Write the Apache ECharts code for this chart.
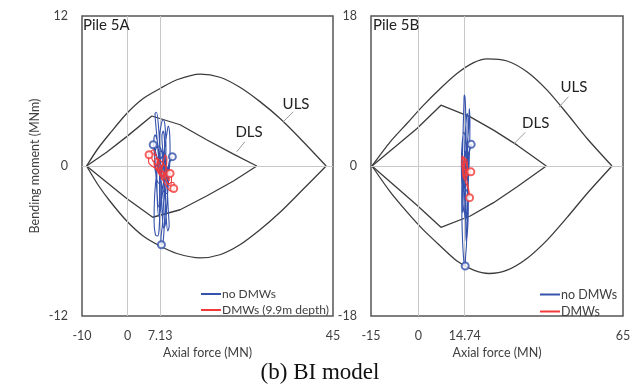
<!DOCTYPE html>
<html><head><meta charset="utf-8">
<script src="https://cdn.jsdelivr.net/npm/echarts@6/dist/echarts.min.js"></script>
<style>html,body{margin:0;padding:0;background:#fff}#c{width:640px;height:392px}</style>
</head><body><div id="c"></div>
<script>
// ---- tick labels ----
const xTicksA = [-10, 0, 7.13, 45];
const yTicksA = [-12, 0, 12];
const xTicksB = [-15, 0, 14.74, 65];
const yTicksB = [-18, 0, 18];
const refLinesA = [0, 7.13];
const refLinesB = [0, 14.74];

// ---- interaction envelopes (axial force MN, bending moment MNm) ----
const ulsUpperA = [[-9.0,0],[-6.5,1.4],[-3.9,2.6],[-0.2,4.2],[3.4,5.4],[7.1,6.2],[10.8,6.9],[15.9,7.35],[20.2,7.1],[24.6,6.3],[29.0,5.15],[33.4,3.8],[37.8,2.2],[43.5,0]];
const ulsLowerA = [[-9.0,0],[-6.5,-1.5],[-3.9,-2.8],[-0.2,-4.4],[3.4,-5.6],[7.1,-6.4],[10.8,-7.0],[15.9,-7.35],[20.2,-7.1],[24.6,-6.3],[29.0,-5.1],[33.4,-3.7],[37.8,-2.1],[43.5,0]];
const dlsUpperA = [[-9.0,0],[-4.6,1.1],[-0.2,2.35],[5.3,4.0],[11.5,3.3],[17.3,2.1],[23.2,0.95],[28.3,0]];
const dlsLowerA = [[-9.0,0],[-4.6,-1.3],[-0.2,-2.6],[5.5,-4.1],[11.5,-3.5],[17.3,-2.4],[23.2,-1.2],[28.3,0]];

const ulsUpperB = [[-14.7,0],[-8.9,2.9],[-3.6,5.1],[1.7,7.3],[7.0,9.3],[12.3,11.1],[17.6,12.4],[21.8,12.85],[28.2,12.6],[34.5,11.3],[40.9,9.1],[47.2,6.3],[53.6,3.3],[61.5,0]];
const ulsLowerB = [[-14.7,0],[-8.9,-3.1],[-3.6,-5.5],[1.7,-7.7],[7.0,-9.6],[12.3,-11.4],[17.6,-12.5],[22.5,-12.9],[28.2,-12.5],[34.5,-11.1],[40.9,-8.9],[47.2,-6.2],[53.6,-3.3],[61.5,0]];
const dlsUpperB = [[-14.7,0],[-6.75,2.5],[-0.4,4.5],[7.2,7.3],[16.5,5.9],[23.9,4.3],[31.4,2.5],[40.65,0]];
const dlsLowerB = [[-14.7,0],[-6.75,-2.6],[-0.4,-4.7],[7.2,-7.36],[16.5,-6.0],[23.9,-4.4],[31.4,-2.5],[40.65,0]];

// ---- pile response trajectories ----
const noDmwA = [[7.5,0.0],[8.0,1.2],[8.6,2.6],[8.9,3.2],[9.2,2.6],[9.3,1.0],[9.0,-1.0],[8.6,-3.0],[8.3,-4.6],[7.9,-5.0],[7.6,-4.0],[7.4,-2.0],[7.2,0.2],[7.0,2.2],[7.4,3.4],[7.8,3.7],[8.2,3.2],[8.4,1.5],[8.2,-0.5],[7.9,-2.8],[7.6,-4.8],[7.3,-5.8],[7.4,-6.3],[7.7,-6.2],[8.0,-5.0],[8.3,-2.5],[8.5,0.0],[8.1,1.0],[7.2,0.5],[6.4,-0.5],[5.9,-2.5],[5.8,-4.5],[6.1,-5.5],[6.6,-5.6],[7.0,-4.0],[7.0,-1.0],[6.6,1.5],[6.2,3.2],[6.0,4.2],[6.3,4.3],[6.8,3.0],[7.1,0.8],[7.3,-1.5],[7.2,-3.5],[6.8,-4.0],[6.4,-2.0],[6.0,0.5],[5.7,1.7],[6.0,2.5],[6.5,2.0],[7.0,0.5],[7.6,-0.8],[8.3,-1.2],[8.8,-0.3],[9.3,0.6],[9.8,0.75],[9.2,0.2],[8.7,-1.5],[8.9,-3.5],[9.1,-4.8],[8.8,-5.2],[8.4,-3.8],[8.0,-1.0],[7.7,1.2],[7.5,2.4],[7.8,2.8],[8.1,1.8],[8.0,-0.4],[7.5,-2.6],[6.9,-3.3],[6.5,-2.4],[6.4,-0.6],[6.8,0.9],[7.3,1.2],[7.7,0.4],[7.4,-0.9],[6.9,-1.4],[6.3,-0.9],[5.9,0.3],[6.2,1.4],[6.9,1.6],[7.6,1.0],[8.4,0.2],[8.9,-0.8],[8.6,-2.2],[7.8,-2.0],[7.1,-0.6],[6.5,0.6],[5.6,1.7]];
const noDmwMarksA = [[9.8,0.75],[5.6,1.7],[7.4,-6.3]];
const dmwA = [[7.0,0.2],[6.2,0.8],[5.2,1.0],[4.6,0.9],[4.6,0.3],[5.3,0.0],[6.3,-0.2],[7.2,-0.3],[8.0,-0.5],[8.6,-0.9],[9.1,-1.2],[9.0,-0.6],[8.2,0.0],[7.3,0.4],[6.6,0.6],[6.4,0.0],[7.0,-0.6],[7.8,-1.2],[8.6,-1.7],[9.4,-2.0],[10.1,-1.9],[10.2,-1.4],[9.6,-1.3],[8.9,-1.5],[8.3,-1.0],[7.6,-0.4],[6.9,0.3],[6.0,0.6],[5.8,0.1],[6.5,-0.4],[7.5,-0.9],[8.4,-0.2],[8.6,0.6],[8.2,0.9],[7.8,0.3],[7.1,-0.2],[6.6,0.3],[6.1,1.0],[5.6,1.3],[5.1,1.1],[5.4,0.5],[6.2,0.1],[7.0,-0.4],[7.9,-0.9],[8.7,-1.3],[9.3,-1.6],[9.6,-1.0],[9.0,-0.4],[8.3,-0.6],[7.6,-1.1],[7.3,-0.6],[7.8,0.1]];
const dmwMarksA = [[10.1,-1.8],[9.3,-0.6],[4.7,0.9]];

const noDmwB = [[15.0,0.0],[15.5,2.5],[16.0,4.5],[16.2,6.9],[16.4,5.0],[16.3,2.0],[16.0,-1.0],[15.7,-4.0],[15.5,-7.0],[15.3,-9.5],[15.0,-11.0],[14.9,-12.0],[14.6,-11.8],[14.2,-10.0],[13.9,-7.0],[13.8,-4.0],[13.9,-1.0],[14.1,2.0],[14.3,5.0],[14.5,7.5],[14.6,8.5],[14.9,8.0],[15.1,5.5],[15.2,2.5],[15.1,-1.0],[15.0,-4.0],[15.1,-7.5],[15.2,-9.0],[15.6,-8.0],[15.9,-5.0],[15.8,-2.0],[15.5,1.0],[15.1,3.0],[14.5,4.0],[14.0,3.0],[13.7,0.5],[13.8,-2.0],[14.3,-3.0],[15.0,-1.5],[15.8,1.0],[16.5,2.4],[16.9,2.6],[16.2,1.6],[15.7,-0.5],[15.6,-3.0],[15.4,-5.5],[15.0,-6.5],[14.6,-5.0],[14.4,-2.5],[14.6,0.5],[14.9,3.5],[15.3,5.8],[15.6,6.3],[15.8,4.4],[15.6,1.5],[15.2,-1.2],[14.7,-3.6],[14.2,-5.6],[14.0,-4.2],[14.2,-1.5],[14.8,1.2],[15.4,2.0],[15.9,0.8],[15.8,-1.6],[15.3,-3.0],[14.8,-2.2],[14.9,0.0]];
const noDmwMarksB = [[16.8,2.6],[14.9,-12.0]];
const dmwB = [[14.8,0.0],[14.2,0.8],[13.9,1.2],[13.8,0.5],[14.0,-0.5],[14.6,-1.2],[15.2,-1.0],[15.6,-0.3],[15.5,0.6],[15.0,0.9],[14.6,0.2],[14.5,-0.8],[14.9,-1.8],[15.4,-2.3],[15.9,-2.8],[16.2,-3.5],[16.4,-3.8],[16.1,-3.0],[15.5,-1.8],[15.0,-0.8],[15.4,-0.4],[16.1,-0.5],[16.7,-0.7],[16.3,-0.9],[15.5,-1.0],[14.8,-0.2],[14.3,0.4],[14.1,-0.6],[14.6,-1.6],[15.3,-1.4],[15.8,-0.8],[15.2,0.3],[14.6,1.0],[14.2,1.1],[14.5,0.1],[15.1,-0.6]];
const dmwMarksB = [[16.7,-0.7],[16.3,-3.8]];

// ---- annotations (data coordinates) ----
const ulsLabelA = [36.9, 4.96], ulsLeaderA = [[34.1,3.54],[36.3,4.34]];
const dlsLabelA = [26.6, 2.72], dlsLeaderA = [[23.9,1.14],[25.7,1.94]];
const ulsLabelB = [49.4, 9.42], ulsLeaderB = [[44.6,7.04],[47.7,8.32]];
const dlsLabelB = [37.3, 5.12], dlsLeaderB = [[30.3,2.64],[34.0,4.04]];

const FONT = 'Lato';
const TXT = '#404040';
const ENV = '#3c3c3c';
const BLUE = '#3552ad';
const RED = '#f23a3a';

function envSeries(data, i, extra) {
  return Object.assign({
    type: 'line', xAxisIndex: i, yAxisIndex: i, data: data,
    showSymbol: false, symbol: 'none', smooth: 0.25, silent: true,
    lineStyle: { color: ENV, width: 1.3 }, z: 3
  }, extra || {});
}
function annot(i, labelPos, leader, text) {
  return {
    type: 'line', xAxisIndex: i, yAxisIndex: i, data: [], silent: true,
    markLine: { silent: true, symbol: 'none', label: { show: false },
      lineStyle: { color: '#9a9a9a', width: 1, type: 'solid' },
      data: [[{ coord: leader[0] }, { coord: leader[1] }]] },
    markPoint: { silent: true, symbol: 'circle', symbolSize: 0,
      label: { show: true, formatter: text, color: '#222', fontFamily: FONT, fontSize: 15, position: 'inside' },
      data: [{ coord: labelPos }] }
  };
}
function refLines(i, xs) {
  return {
    type: 'line', xAxisIndex: i, yAxisIndex: i, data: [], silent: true, z: 1,
    markLine: { silent: true, symbol: 'none', label: { show: false },
      lineStyle: { color: '#c8c8c8', width: 1, type: 'solid' },
      data: xs.map(v => ({ xAxis: v })).concat([{ yAxis: 0 }]) }
  };
}
function traj(name, data, color, i, z) {
  return { name: name, type: 'line', xAxisIndex: i, yAxisIndex: i, data: data,
    showSymbol: false, symbol: 'none', smooth: 0.35, z: z,
    lineStyle: { color: color, width: 1.1 }, itemStyle: { color: color } };
}
function marks(name, data, color, i, z) {
  return { name: name, type: 'scatter', xAxisIndex: i, yAxisIndex: i, data: data,
    symbol: 'emptyCircle', symbolSize: 7, z: z,
    itemStyle: { color: color, borderColor: color, borderWidth: 1 } };
}
const axLabel = { color: TXT, fontFamily: FONT, fontSize: 12.5 };

const option = {
  animation: false,
  title: [
    { text: 'Pile 5A', left: 83, top: 18, padding: 0, textStyle: { fontFamily: FONT, fontSize: 15, fontWeight: 'normal', color: '#222' } },
    { text: 'Pile 5B', left: 373, top: 18, padding: 0, textStyle: { fontFamily: FONT, fontSize: 15, fontWeight: 'normal', color: '#222' } },
    { text: '(b) BI model', left: 'center', top: 361, padding: 0, textStyle: { fontFamily: 'Liberation Serif', fontSize: 23, fontWeight: 'normal', color: '#111' } }
  ],
  grid: [
    { left: 82, top: 16, width: 251, height: 300, show: true, borderColor: '#555', borderWidth: 1.5, backgroundColor: 'transparent' },
    { left: 371, top: 16, width: 252, height: 300, show: true, borderColor: '#555', borderWidth: 1.5, backgroundColor: 'transparent' }
  ],
  xAxis: [
    { type: 'value', gridIndex: 0, min: -10, max: 45, name: 'Axial force (MN)', nameLocation: 'middle', nameGap: 29,
      nameTextStyle: { color: TXT, fontFamily: FONT, fontSize: 12.5 },
      axisLine: { show: false }, axisTick: { show: false }, splitLine: { show: false },
      axisLabel: Object.assign({ customValues: xTicksA, margin: 13, showMinLabel: true, showMaxLabel: true }, axLabel) },
    { type: 'value', gridIndex: 1, min: -15, max: 65, name: 'Axial force (MN)', nameLocation: 'middle', nameGap: 29,
      nameTextStyle: { color: TXT, fontFamily: FONT, fontSize: 12.5 },
      axisLine: { show: false }, axisTick: { show: false }, splitLine: { show: false },
      axisLabel: Object.assign({ customValues: xTicksB, margin: 13, showMinLabel: true, showMaxLabel: true }, axLabel) }
  ],
  yAxis: [
    { type: 'value', gridIndex: 0, min: yTicksA[0], max: yTicksA[2], interval: yTicksA[2], name: 'Bending moment (MNm)', nameLocation: 'middle', nameGap: 41,
      nameTextStyle: { color: TXT, fontFamily: FONT, fontSize: 12.5 },
      axisLine: { show: false }, axisTick: { show: false }, splitLine: { show: false },
      axisLabel: Object.assign({ margin: 14 }, axLabel) },
    { type: 'value', gridIndex: 1, min: yTicksB[0], max: yTicksB[2], interval: yTicksB[2],
      axisLine: { show: false }, axisTick: { show: false }, splitLine: { show: false },
      axisLabel: Object.assign({ margin: 14 }, axLabel) }
  ],
  legend: [
    { data: ['no DMWs', 'DMWs (9.9m depth)'], orient: 'vertical', left: 196, top: 283, itemGap: 4,
      icon: 'rect', itemWidth: 20, itemHeight: 2, textStyle: { color: TXT, fontFamily: FONT, fontSize: 12, padding: [0,0,0,-4] } },
    { data: ['no DMWs', 'DMWs'], orient: 'vertical', left: 535, top: 283, itemGap: 4,
      icon: 'rect', itemWidth: 20, itemHeight: 2, textStyle: { color: TXT, fontFamily: FONT, fontSize: 12.5, padding: [0,0,0,-4] } }
  ],
  series: [
    refLines(0, refLinesA), refLines(1, refLinesB),
    envSeries(ulsUpperA, 0), envSeries(ulsLowerA, 0),
    envSeries(dlsUpperA, 0, { smooth: false }), envSeries(dlsLowerA, 0, { smooth: false }),
    envSeries(ulsUpperB, 1), envSeries(ulsLowerB, 1),
    envSeries(dlsUpperB, 1, { smooth: false }), envSeries(dlsLowerB, 1, { smooth: false }),
    annot(0, ulsLabelA, ulsLeaderA, 'ULS'), annot(0, dlsLabelA, dlsLeaderA, 'DLS'),
    annot(1, ulsLabelB, ulsLeaderB, 'ULS'), annot(1, dlsLabelB, dlsLeaderB, 'DLS'),
    traj('no DMWs', noDmwA, BLUE, 0, 5), marks('no DMWs', noDmwMarksA, BLUE, 0, 5),
    traj('DMWs (9.9m depth)', dmwA, RED, 0, 6), marks('DMWs (9.9m depth)', dmwMarksA, RED, 0, 6),
    traj('no DMWs', noDmwB, BLUE, 1, 5), marks('no DMWs', noDmwMarksB, BLUE, 1, 5),
    traj('DMWs', dmwB, RED, 1, 6), marks('DMWs', dmwMarksB, RED, 1, 6)
  ]
};
const chart = echarts.init(document.getElementById('c'), null, { renderer: 'canvas' });
chart.setOption(option);
</script></body></html>
